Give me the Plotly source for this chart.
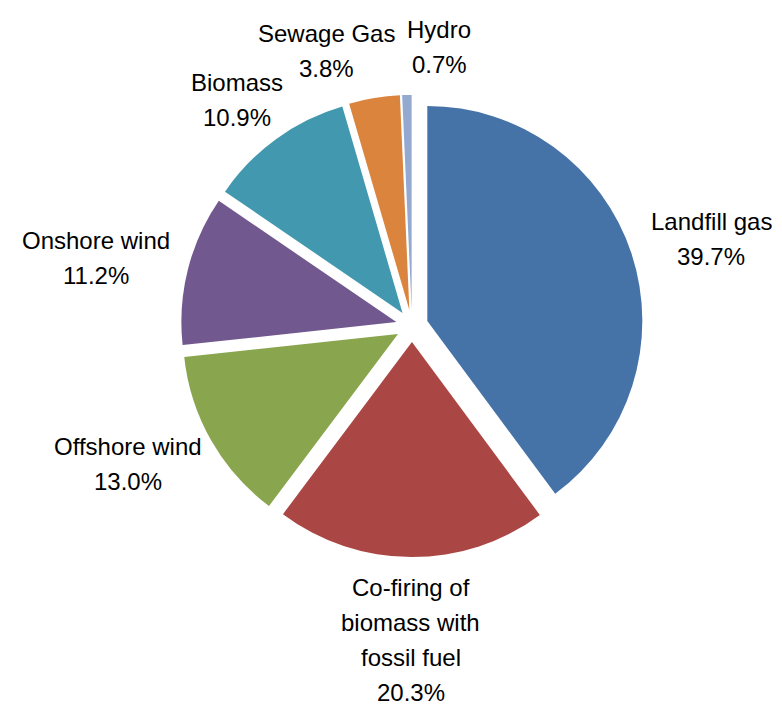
import math
import plotly.graph_objects as go

# ---- data ----
labels = ["Landfill gas", "Co-firing of<br>biomass with<br>fossil fuel", "Offshore wind",
          "Onshore wind", "Biomass", "Sewage Gas", "Hydro"]
values = [39.7, 20.3, 13.0, 11.2, 10.9, 3.8, 0.7]
colors = ["#4572A7", "#AA4643", "#89A54E", "#71588F", "#4198AF", "#DB843D", "#93A9CF"]

# ---- layout geometry (pixels) ----
W, H = 782, 706
cx, cy, r, pull = 412, 326, 215, 0.075
half = r * (1 + pull)
FS = 24
LH = 35
FONT = "Liberation Sans, Arial, sans-serif"

fig = go.Figure(go.Pie(
    labels=labels,
    values=values,
    sort=False,
    direction="clockwise",
    rotation=0,
    pull=[pull] * len(values),
    marker=dict(colors=colors, line=dict(width=0)),
    textinfo="none",
    hoverinfo="label+value",
    showlegend=False,
    automargin=False,
    domain=dict(x=[(cx - half) / W, (cx + half) / W],
                y=[(H - cy - half) / H, (H - cy + half) / H]),
))


def text_width(s, fs):
    w = 0.0
    for ch in s:
        if ch in "iljI.' ":
            w += 0.27
        elif ch in "frt-":
            w += 0.33
        elif ch in "mwM%":
            w += 0.86
        elif ch.isupper():
            w += 0.68
        else:
            w += 0.556
    return w * fs * 1.03


# label boxes placed outside each slice along its bisector
total = sum(values)
R_lab = r * (1 + pull) + 17
boxes = []
cum = 0.0
for lab, v in zip(labels, values):
    mid = (cum + v / 2) / total * 2 * math.pi
    cum += v
    lines = lab.split("<br>") + [f"{v:.1f}%"]
    w = max(text_width(t, FS) for t in lines)
    h = (len(lines) - 1) * LH + 26
    s, c = math.sin(mid), math.cos(mid)
    bx = cx + R_lab * s + s * w / 2
    by = cy - R_lab * c - c * h / 2
    boxes.append(dict(x=bx, y=by, w=w, h=h, lines=lines))

# simple horizontal overlap resolution
for _ in range(5):
    for i in range(len(boxes)):
        for j in range(i + 1, len(boxes)):
            a, b = boxes[i], boxes[j]
            voverlap = min(a["y"] + a["h"] / 2, b["y"] + b["h"] / 2) - max(a["y"] - a["h"] / 2, b["y"] - b["h"] / 2)
            need = (a["w"] + b["w"]) / 2 + 8
            dist = abs(a["x"] - b["x"])
            if voverlap > 20 and dist < need:
                shift = (need - dist) / 2
                left, right = (a, b) if a["x"] <= b["x"] else (b, a)
                left["x"] -= shift
                right["x"] += shift

for bx in boxes:
    n = len(bx["lines"])
    for k, t in enumerate(bx["lines"]):
        py = bx["y"] + (k - (n - 1) / 2) * LH
        fig.add_annotation(
            x=bx["x"] / W, y=1 - py / H, xref="paper", yref="paper",
            text=t, showarrow=False, xanchor="center", yanchor="middle",
            font=dict(family=FONT, size=FS, color="black"),
        )

fig.update_layout(
    width=W, height=H,
    margin=dict(l=0, r=0, t=0, b=0, autoexpand=False),
    paper_bgcolor="white",
    showlegend=False,
)
fig.write_html("out.html")
